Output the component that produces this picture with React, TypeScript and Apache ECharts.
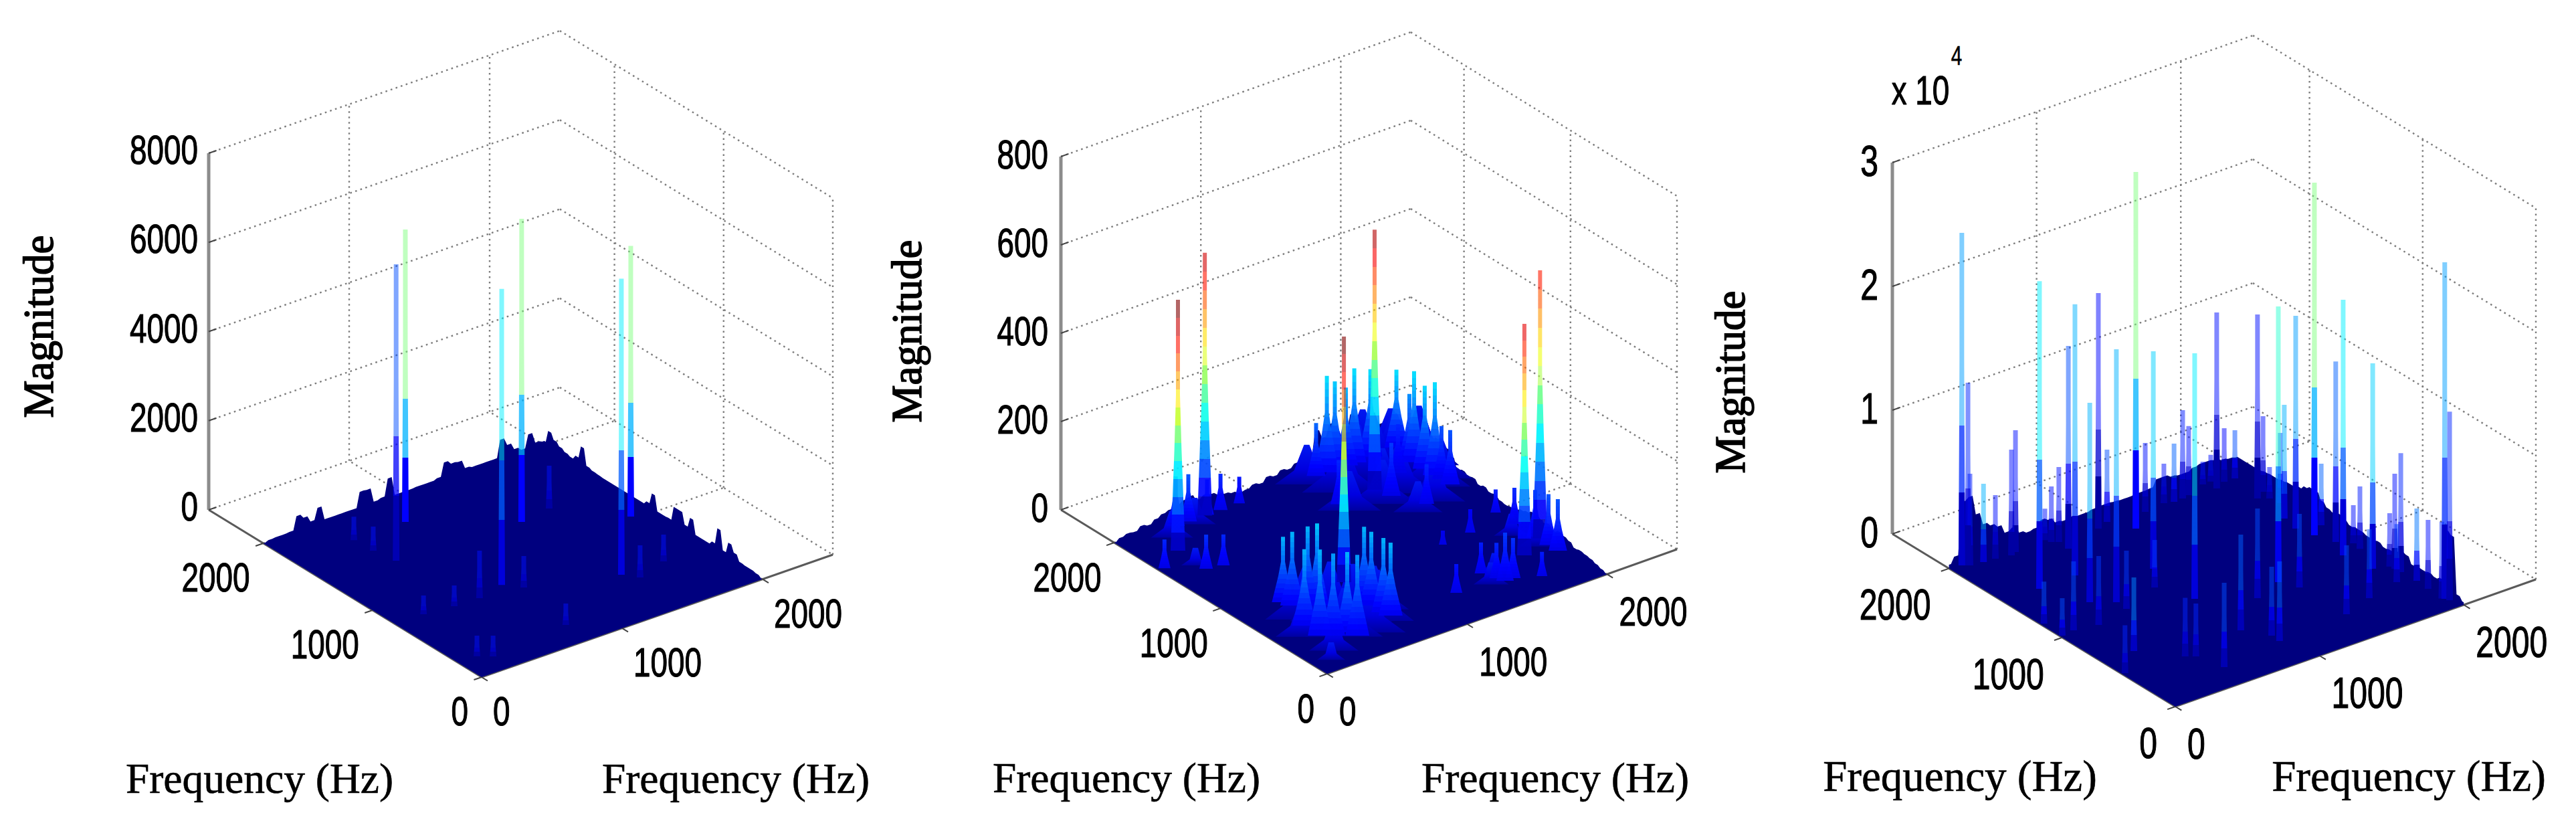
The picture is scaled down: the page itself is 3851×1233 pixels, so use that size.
import React, { useEffect, useRef } from "react";
import * as echarts from "echarts";

// ---------- shared axis data ----------
const freqTicks = [0, 1000, 2000];
const wallFreqTicks = [1000, 2000];
const freqLimit = 2500;
const xLabelText = "Frequency (Hz)";
const zLabelText = "Magnitude";

// ---------- panel 1 data: [fx, fy, magnitude, colour value] ----------
const p1ZTicks = [0, 2000, 4000, 6000, 8000];
const p1ZLabels = ["0", "2000", "4000", "6000", "8000"];
const p1EdgeFy2000 = [0,30,40,40,50,350,260,120,370,60,60,60,60,60,400,390,70,100,480,60,60,60,70,70,70,100,400,320,300,110,80,80,80,80,470,300,150,80,370,130,100];
const p1EdgeFx2000 = [0,40,60,60,70,200,350,100,520,150,70,70,70,380,150,400,400,80,70,70,400,150,70,70,70,70,70,70,70,70,80,90,120,480,200,100,130,180,250,380,100];
const p1Spikes = [
  [474,1393,6650,.2],[803,1732,6560,.5],[774,812,6640,.36],[1331,1346,6800,.5],[1392,511,6640,.36],[1866,1035,6070,.5],
  [575,759,1066,.14],[855,714,706,.14],[1457,423,720,.14],[1555,1382,960,.14],[435,1730,525,.14],[444,1564,540,.14],
  [202,792,420,.14],[401,767,465,.14],[133,214,465,.14],[206,160,465,.14],[768,217,480,.14],[1683,499,600,.14],
];
const p1Hills: number[][] = [];

// ---------- panel 2 data ----------
const p2ZTicks = [0, 200, 400, 600, 800];
const p2ZLabels = ["0", "200", "400", "600", "800"];
const p2EdgeFy2000 = [0,6,10,8,16,12,20,26,30,34,40,44,30,36,32,26,22,18,12,14,20,16,26,22,30,26,34,28,38,90,70,95,40,60,100,65,70,85,55,40,35];
const p2EdgeFx2000 = [0,4,8,12,14,16,14,22,26,30,24,32,28,34,36,30,26,22,18,16,18,24,22,28,24,32,30,34,30,50,62,58,70,55,62,50,60,48,42,38,35];
const p2Spikes = [
  [230,1703,568,1],[610,1950,595,.92],[750,828,556,1],[1569,1616,589,.95],[1765,467,524,.9],[1960,576,607,.85],
  [1405,1950,120,.22],[1482,1950,218,.34],[1539,1950,199,.32],[1618,1950,176,.3],[1678,1950,213,.34],[1793,1950,198,.34],[1979,1950,176,.34],
  [1950,1746,206,.34],[1950,1646,188,.33],[1950,1551,210,.34],[1950,1489,120,.2],[1950,1407,123,.2],[1950,1790,148,.26],
  [327,844,148,.3],[344,780,167,.3],[251,544,173,.3],[414,727,179,.3],[457,695,186,.32],[248,394,195,.3],[308,348,186,.28],[396,332,182,.3],[417,265,183,.28],[694,565,171,.3],[702,508,167,.3],[708,402,168,.3],[716,345,165,.3],
  [1950,980,52,.15],[1950,804,82,.16],[1950,609,106,.18],[1950,484,115,.2],[1950,396,117,.2],
  [626,1950,80,.16],[722,1950,82,.16],[856,1950,60,.14],[492,1950,107,.2],[402,1950,112,.22],
  [40,1580,65,.16],[225,1432,77,.17],[328,1405,70,.16],
  [1435,441,70,.15],[1471,343,80,.16],[1490,287,109,.18],[1546,286,91,.17],[1692,206,55,.15],[1181,339,65,.14],[1687,873,53,.12],[1474,850,32,.11],
  [1600,1500,120,.18],[1800,1700,110,.16],[1700,1300,90,.16],[1300,1600,100,.16],
];
const p2Hills = [
  [1500,1900,110],[1700,1900,125],[1900,1900,105],[1950,1700,135],[1950,1500,90],[1650,1650,80],
  [1300,1900,90],[1400,1700,120],[1550,1750,130],[1700,1800,125],[1850,1800,115],[1900,1600,130],[1850,1450,110],[1750,1300,90],[1500,1450,100],[1300,1500,90],[1650,1500,110],[1600,1250,70],
  [300,600,120],[400,500,135],[500,420,130],[600,350,125],[350,300,110],[500,250,100],[250,420,100],[150,450,70],[700,450,90],[200,200,70],[120,120,40],
  [500,1900,60],[300,1850,60],[1900,500,60],[1850,700,50],[200,1500,40],[1500,400,45],[1400,300,50],
];

// ---------- panel 3 data ----------
const p3ZTicks = [0, 10000, 20000, 30000];
const p3ZLabels = ["0", "1", "2", "3"];
const p3EdgeFy2000 = [300,800,5000,5200,3600,2600,2300,2000,1300,1500,900,700,800,1300,1100,700,600,700,600,600,700,750,750,700,650,650,700,700,750,1300,1300,1100,1000,1000,1200,1300,1300,1200,1000,900,800];
const p3EdgeFx2000 = [200,500,5000,5200,1000,800,900,800,800,700,1200,1300,1000,800,700,900,800,800,900,900,800,1000,1200,1000,1100,1400,1900,1900,1700,1400,1200,1200,1100,1000,1000,950,850,800,800,800,800];
const p3Spikes = [
  [79,1987,26860,.28],[106,1967,14760,.16],[251,1520,24860,.36],[667,1795,16380,.2],[504,1529,21900,.3],[944,1883,19030,.13],
  [376,1235,16100,.3],[493,1149,20430,.3],[1109,1762,28810,.5],[896,1336,17570,.33],[861,926,19840,.36],[1753,1868,14220,.14],
  [1531,1886,7135,.15],[411,1936,9840,.14],[369,1918,8540,.14],[198,1947,6320,.3],[274,1939,5135,.14],[1030,1916,5840,.2],
  [674,1888,6050,.14],[1270,1884,5570,.14],[1469,1883,4700,.22],[1582,1898,5570,.14],[1834,1905,4320,.13],[1905,1901,3890,.2],
  [115,1961,7400,.15],[1415,1904,3190,.14],[641,1912,4490,.14],
  [1860,1644,14860,.14],[1349,809,22270,.42],[1811,1244,17190,.28],[1845,1122,28490,.5],[1827,845,20650,.36],[1890,991,14590,.22],
  [1860,626,16590,.33],[1960,117,27190,.28],[1971,88,15240,.16],[1833,1373,9190,.3],[1932,1687,6110,.14],[1926,1527,5675,.2],
  [1959,504,9620,.16],[1957,555,7675,.14],[1948,851,5030,.15],[1947,1192,4970,.22],[1967,373,5840,.24],[1959,263,5570,.14],
  [1958,922,3080,.14],[1913,1605,2540,.14],
  [626,1950,2540,.14],[1776,1950,2160,.14],[1721,1950,1840,.14],[1950,130,6200,.16],[1950,591,4320,.14],
  [20,1186,3400,.2],[102,1029,5570,.2],[251,997,5570,.18],[489,1055,4700,.18],[767,1160,3840,.18],[218,644,5950,.26],
  [499,204,6810,.2],[837,488,7730,.22],[934,339,5570,.2],[930,264,6430,.22],[1403,691,5950,.2],[1417,293,5570,.2],
  [1633,367,5570,.2],[1869,425,4700,.18],[14,1017,3030,.2],[20,470,3870,.16],[405,429,4730,.16],[452,394,4270,.16],[1142,729,7240,.2],
];
const p3Hills: number[][] = [];
const p3Exponent = ["x 10", "4"];

// ---------- layout and style of each panel (pixels on the page) ----------
const TICK_FONT = "Liberation Sans";
const TEXT_FONT = "Liberation Serif";
const panels = [
  { O: [720, 1012], L: [-408, -250], R: [525, -183], Zpx: 533, zTicks: p1ZTicks, zLabels: p1ZLabels,
    edgeY: p1EdgeFy2000, edgeX: p1EdgeFx2000, spikes: p1Spikes, hills: p1Hills, bands: "step", hw: 3.5,
    zOff: [-16, -5], lOff: [-20, 51], rOff: [17, 51], mag: [58, 488], f1: [388, 1163], f2: [1100, 1163], fs: 62, ls: 63.5 },
  { O: [1984, 1007], L: [-398, -245], R: [523, -186], Zpx: 528, zTicks: p2ZTicks, zLabels: p2ZLabels,
    edgeY: p2EdgeFy2000, edgeX: p2EdgeFx2000, spikes: p2Spikes, hills: p2Hills, bands: "smooth", hw: 3,
    zOff: [-19, -3], lOff: [-19, 52], rOff: [18, 56], mag: [1356, 495], f1: [1684, 1162], f2: [2325, 1162], fs: 62, ls: 63.5 },
  { O: [3252, 1056], L: [-423, -258], R: [539, -190], Zpx: 555, zTicks: p3ZTicks, zLabels: p3ZLabels,
    edgeY: p3EdgeFy2000, edgeX: p3EdgeFx2000, spikes: p3Spikes, hills: p3Hills, bands: "step", hw: 3.5,
    zOff: [-21, -3], lOff: [-27, 54], rOff: [18, 55], mag: [2587, 571], f1: [2930, 1160], f2: [3601, 1160], fs: 65, ls: 65 },
];

// MATLAB "jet" colour map
function jet(v: number): number[] {
  const c = (d: number) => Math.max(0, Math.min(1, 1.5 - Math.abs(4 * v - d)));
  return [c(3) * 255, c(2) * 255, c(1) * 255].map(Math.round);
}
const rgba = (c: number[], a: number) => `rgba(${c[0]},${c[1]},${c[2]},${a})`;

// bands are listed foot to top as [t0, t1, colour value, alpha]; gradient offsets run top to foot
function spikeFill(mode: string, level: number) {
  const bands: number[][] = [];
  if (mode === "step") {
    bands.push([0, 0.22, level * 0.25, 1], [0.22, 0.42, level * 0.6, 0.75], [0.42, 1, level, 0.5]);
  } else {
    const n = 14;
    for (let i = 0; i < n; i++) {
      const t = (i + 1) / n;
      const floorLevel = level < 0.5 ? 0.1 : 0;
      bands.push([i / n, t, floorLevel + (level - floorLevel) * t, level < 0.5 ? 0.97 : t > 0.62 ? 0.6 : 0.92]);
    }
  }
  const stops: any[] = [];
  [...bands].reverse().forEach((b) => {
    const col = rgba(jet(b[2]), b[3]);
    stops.push({ offset: 1 - b[1], color: col }, { offset: 1 - b[0], color: col });
  });
  return new echarts.graphic.LinearGradient(0, 0, 0, 1, stops);
}

function buildSeries(): any[] {
  const out: any[] = [];
  panels.forEach((p, pi) => {
    const zMax = p.zTicks[p.zTicks.length - 1];
    const proj = (fx: number, fy: number, z: number) => [
      p.O[0] + (fx / freqLimit) * p.R[0] + (fy / freqLimit) * p.L[0],
      p.O[1] + (fx / freqLimit) * p.R[1] + (fy / freqLimit) * p.L[1] - (z / zMax) * p.Zpx,
    ];
    const base = { type: "custom", coordinateSystem: "cartesian2d", clip: false, silent: true, animation: false };

    // dotted grid: each datum is a 3-D segment
    const gridLines: number[][] = [];
    p.zTicks.forEach((z) => {
      gridLines.push([0, freqLimit, z, freqLimit, freqLimit, z], [freqLimit, freqLimit, z, freqLimit, 0, z]);
    });
    wallFreqTicks.forEach((f) => {
      gridLines.push([f, freqLimit, 0, f, freqLimit, zMax], [freqLimit, f, 0, freqLimit, f, zMax]);
      gridLines.push([f, 0, 0, f, freqLimit, 0], [0, f, 0, freqLimit, f, 0]);
    });
    gridLines.push([freqLimit, 0, 0, freqLimit, 0, zMax]);
    out.push({
      ...base,
      name: `grid${pi}`,
      data: gridLines,
      renderItem: (_: any, api: any) => {
        const a = api.coord(proj(api.value(0), api.value(1), api.value(2)));
        const b = api.coord(proj(api.value(3), api.value(4), api.value(5)));
        return { type: "line", shape: { x1: a[0], y1: a[1], x2: b[0], y2: b[1] },
          style: { stroke: "#7d7d7d", lineWidth: 2.4, lineDash: [2.6, 5.4], fill: null } };
      },
    });

    // solid axes
    const axisLines: number[][] = [
      [0, 0, 0, freqLimit, 0, 0, 3],
      [0, 0, 0, 0, freqLimit, 0, 3],
      [0, freqLimit, 0, 0, freqLimit, zMax, 5],
    ];
    out.push({
      ...base,
      name: `axes${pi}`,
      data: axisLines,
      renderItem: (_: any, api: any) => {
        const a = api.coord(proj(api.value(0), api.value(1), api.value(2)));
        const b = api.coord(proj(api.value(3), api.value(4), api.value(5)));
        return { type: "line", shape: { x1: a[0], y1: a[1], x2: b[0], y2: b[1] },
          style: { stroke: api.value(6) === 5 ? "#8c8c8c" : "#5a5a5a", lineWidth: api.value(6), fill: null } };
      },
    });

    // ticks on the floor axes and on the magnitude axis
    const tickMarks: number[][] = [];
    freqTicks.forEach((f) => {
      tickMarks.push([f, 0, 0, f, -55, 0], [0, f, 0, -55, f, 0]);
    });
    p.zTicks.forEach((z) => tickMarks.push([0, freqLimit, z, 55, freqLimit, z]));
    out.push({
      ...base,
      name: `ticks${pi}`,
      data: tickMarks,
      renderItem: (_: any, api: any) => {
        const a = api.coord(proj(api.value(0), api.value(1), api.value(2)));
        const b = api.coord(proj(api.value(3), api.value(4), api.value(5)));
        return { type: "line", shape: { x1: a[0], y1: a[1], x2: b[0], y2: b[1] },
          style: { stroke: "#444", lineWidth: 2, fill: null } };
      },
    });

    // the surface sheet: floor diamond with its jagged back edges, each reading held as a short plateau
    const hold = 14;
    const clampF = (f: number) => Math.max(0, Math.min(2000, f));
    out.push({
      ...base,
      name: `surface${pi}`,
      data: [[0, 0]],
      renderItem: (_: any, api: any) => {
        const pts: number[][] = [proj(0, 0, 0), proj(2000, 0, 0)];
        p.edgeX.forEach((z, i) => {
          pts.push(proj(2000, clampF(i * 50 - hold), z), proj(2000, clampF(i * 50 + hold), z));
        });
        [...p.edgeY].reverse().forEach((z, i) => {
          const f = 2000 - i * 50;
          pts.push(proj(clampF(f + hold), 2000, z), proj(clampF(f - hold), 2000, z));
        });
        pts.push(proj(0, 2000, 0));
        return { type: "polygon", shape: { points: pts.map((q) => api.coord(q)) }, style: { fill: "#00007f" } };
      },
    });

    // broad mounds of the spectrum
    if (p.hills.length) {
      out.push({
        ...base,
        name: `hills${pi}`,
        data: [...p.hills].sort((a, b) => b[0] + b[1] - a[0] - a[1]),
        renderItem: (_: any, api: any) => {
          const foot = api.coord(proj(api.value(0), api.value(1), 0));
          const top = api.coord(proj(api.value(0), api.value(1), api.value(2)));
          const h = foot[1] - top[1];
          const w = Math.min(60, h * 0.8);
          return {
            type: "polygon",
            shape: { points: [
              [foot[0] - w, foot[1]], [foot[0] - w * 0.4, foot[1] - h * 0.35], [foot[0] - 4, top[1]],
              [foot[0] + 4, top[1]], [foot[0] + w * 0.4, foot[1] - h * 0.35], [foot[0] + w, foot[1]],
            ] },
            style: { fill: new echarts.graphic.LinearGradient(0, 0, 0, 1, [
              { offset: 0, color: "#0018f0" }, { offset: 0.6, color: "#0000e0" }, { offset: 1, color: "#0000a0" },
            ]) },
          };
        },
      });
    }

    // the spectral lines, painted from back to front
    out.push({
      ...base,
      name: `spikes${pi}`,
      data: [...p.spikes].sort((a, b) => b[0] + b[1] - a[0] - a[1]),
      renderItem: (_: any, api: any) => {
        const foot = api.coord(proj(api.value(0), api.value(1), 0));
        const top = api.coord(proj(api.value(0), api.value(1), api.value(2)));
        const h = foot[1] - top[1];
        const w = p.hw;
        const low = api.value(3) < 0.5;
        const flare = p.bands === "smooth" ? (low ? Math.min(15, h * 0.14) : Math.min(8, h * 0.05)) : 1.5;
        return {
          type: "polygon",
          shape: { points: [
            [foot[0] - w - flare, foot[1]], [foot[0] - w - flare * 0.3, foot[1] - h * 0.4], [foot[0] - w, foot[1] - h * 0.62], [foot[0] - w, top[1]],
            [foot[0] + w, top[1]], [foot[0] + w, foot[1] - h * 0.62], [foot[0] + w + flare * 0.3, foot[1] - h * 0.4], [foot[0] + w + flare, foot[1]],
          ] },
          style: { fill: spikeFill(p.bands, api.value(3)) },
        };
      },
    });

    // texts
    type T = { s: string; at: number[]; align: string; font: string; size: number; sx?: number; rot?: number; heavy?: number };
    const texts: T[] = [];
    const sx = 0.74;
    p.zTicks.forEach((z, i) => {
      const q = proj(0, freqLimit, z);
      texts.push({ s: p.zLabels[i], at: [q[0] + p.zOff[0], q[1] + p.zOff[1]], align: "right", font: TICK_FONT, size: p.fs, sx, heavy: 1.2 });
    });
    freqTicks.forEach((f) => {
      const a = proj(0, f, 0);
      texts.push({ s: String(f), at: [a[0] + p.lOff[0], a[1] + p.lOff[1]], align: "right", font: TICK_FONT, size: p.fs, sx, heavy: 1.2 });
      const b = proj(f, 0, 0);
      texts.push({ s: String(f), at: [b[0] + p.rOff[0], b[1] + p.rOff[1]], align: "left", font: TICK_FONT, size: p.fs, sx, heavy: 1.2 });
    });
    texts.push({ s: zLabelText, at: p.mag, align: "center", font: TEXT_FONT, size: 63, rot: Math.PI / 2, heavy: 1.6 });
    texts.push({ s: xLabelText, at: p.f1, align: "center", font: TEXT_FONT, size: p.ls, heavy: 0.6 });
    texts.push({ s: xLabelText, at: p.f2, align: "center", font: TEXT_FONT, size: p.ls, heavy: 0.6 });
    if (pi === 2) {
      texts.push({ s: p3Exponent[0], at: [2871, 135], align: "center", font: TICK_FONT, size: 62, sx, heavy: 1.2 });
      texts.push({ s: p3Exponent[1], at: [2925, 83], align: "center", font: TICK_FONT, size: 40, sx, heavy: 0.6 });
    }
    out.push({
      ...base,
      name: `text${pi}`,
      data: texts.map((_, i) => [i, 0]),
      renderItem: (params: any, api: any) => {
        const t = texts[params.dataIndex];
        const c = api.coord(t.at);
        return {
          type: "text",
          x: c[0],
          y: c[1],
          scaleX: t.sx ?? 1,
          rotation: t.rot ?? 0,
          style: { text: t.s, x: 0, y: 0, align: t.align, verticalAlign: "middle",
            fontFamily: t.font, fontSize: t.size, fill: "#000", stroke: "#000", lineWidth: t.heavy ?? 0 },
        };
      },
    });
  });
  return out;
}

export default function App() {
  const ref = useRef<HTMLDivElement>(null);
  useEffect(() => {
    document.body.style.margin = "0";
    const chart = echarts.init(ref.current!, undefined, { renderer: "svg" });
    chart.setOption({
      animation: false,
      backgroundColor: "#ffffff",
      grid: { left: 0, right: 0, top: 0, bottom: 0 },
      xAxis: { type: "value", min: 0, max: 3851, show: false },
      yAxis: { type: "value", min: 0, max: 1233, inverse: true, show: false },
      series: buildSeries(),
    });
    return () => chart.dispose();
  }, []);
  return <div ref={ref} style={{ position: "absolute", left: 0, top: 0, width: 3851, height: 1233 }} />;
}
